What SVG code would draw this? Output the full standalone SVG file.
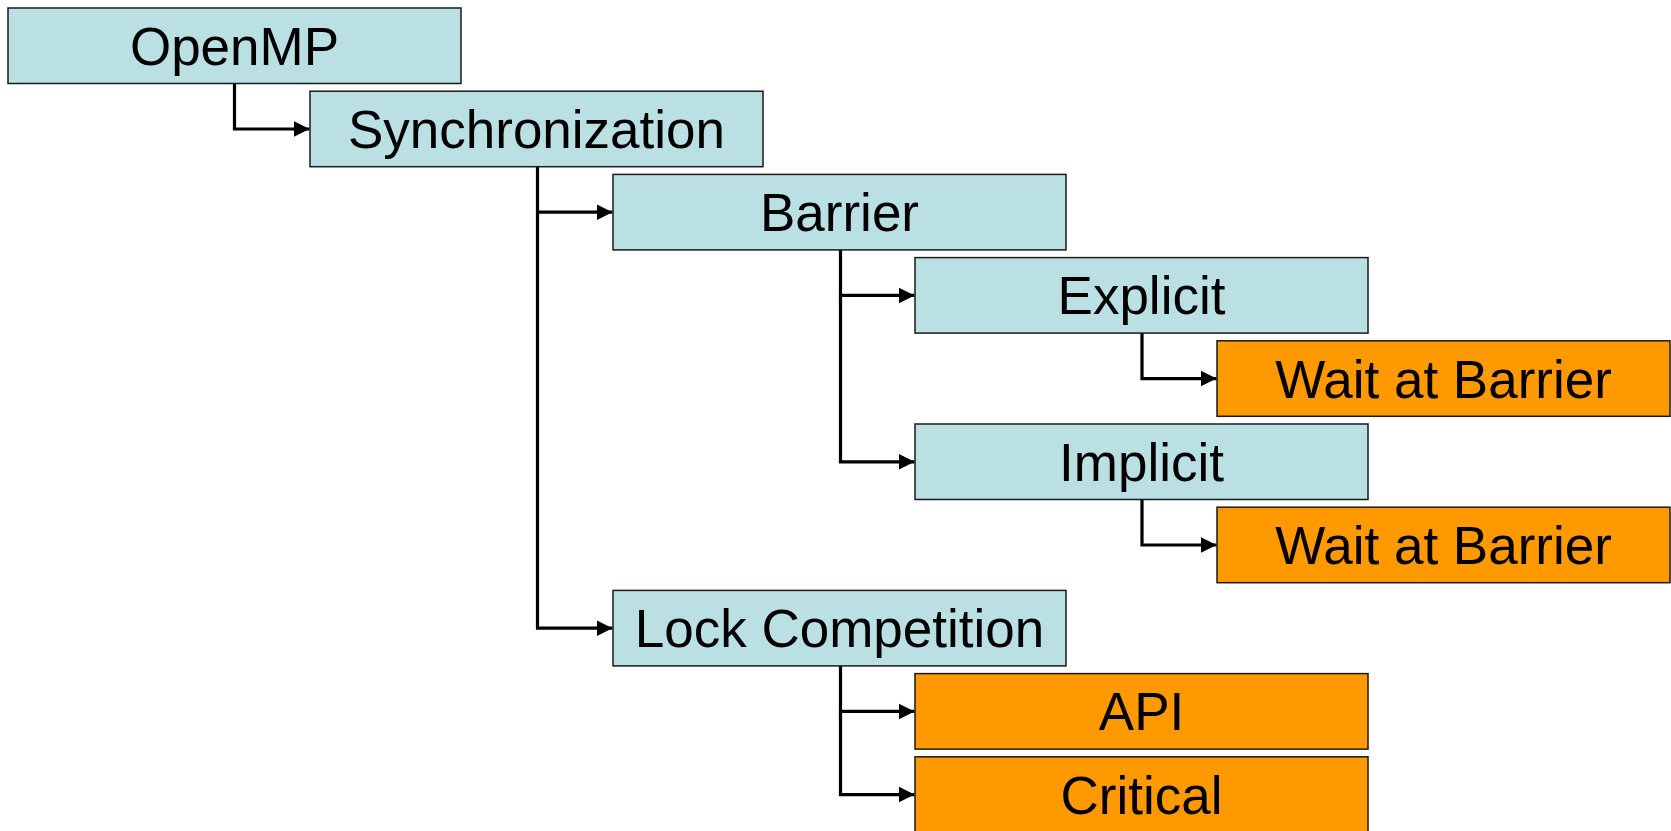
<svg xmlns="http://www.w3.org/2000/svg" width="1671" height="831" viewBox="0 0 1671 831">
<style>
.box rect{stroke:#1a1a1a;stroke-width:1.5}
.blue rect{fill:#BAE0E3}
.orange rect{fill:#FF9900}
text{font-family:"Liberation Sans",Arial,sans-serif;font-size:53px;fill:#000;text-anchor:middle}
.conn path{fill:none;stroke:#000;stroke-width:3.2;marker-end:url(#arr)}
</style>
<defs>
<marker id="arr" markerUnits="userSpaceOnUse" markerWidth="18" markerHeight="18" viewBox="0 0 18 18" refX="16" refY="9" orient="auto">
<path d="M0,1 L16,9 L0,17 Z" fill="#000"/>
</marker>
</defs>
<rect width="1671" height="831" fill="#fff"/>
<g class="conn" id="connectors">
<path d="M234.5,83.5 V129 H309.5"/>
<path d="M537.5,166.7 V212.2 H612.5"/>
<path d="M537.5,212.2 V628.2 H612.5"/>
<path d="M840.5,249.9 V295.4 H914.5"/>
<path d="M840.5,295.4 V461.8 H914.5"/>
<path d="M1142,333.1 V378.6 H1216.5"/>
<path d="M1142,499.5 V545 H1216.5"/>
<path d="M840.5,666 V711.4 H914.5"/>
<path d="M840.5,711.4 V794.6 H914.5"/>
</g>
<g id="openmp" class="box blue"><rect x="8" y="8" width="453" height="75.5"/><text x="234.5" y="64.7">OpenMP</text></g>
<g id="synchronization" class="box blue"><rect x="310" y="91.2" width="453" height="75.5"/><text x="536.5" y="147.9">Synchronization</text></g>
<g id="barrier" class="box blue"><rect x="613" y="174.4" width="453" height="75.5"/><text x="839.5" y="231.1">Barrier</text></g>
<g id="explicit" class="box blue"><rect x="915" y="257.6" width="453" height="75.5"/><text x="1141.5" y="314.3">Explicit</text></g>
<g id="wait1" class="box orange"><rect x="1217" y="340.8" width="453" height="75.5"/><text x="1443.5" y="397.5">Wait at Barrier</text></g>
<g id="implicit" class="box blue"><rect x="915" y="424" width="453" height="75.5"/><text x="1141.5" y="480.7">Implicit</text></g>
<g id="wait2" class="box orange"><rect x="1217" y="507.2" width="453" height="75.5"/><text x="1443.5" y="563.9">Wait at Barrier</text></g>
<g id="lock" class="box blue"><rect x="613" y="590.4" width="453" height="75.5"/><text x="839.5" y="647.1">Lock Competition</text></g>
<g id="api" class="box orange"><rect x="915" y="673.6" width="453" height="75.5"/><text x="1141.5" y="730.3">API</text></g>
<g id="critical" class="box orange"><rect x="915" y="756.8" width="453" height="75.5"/><text x="1141.5" y="813.5">Critical</text></g>
</svg>
